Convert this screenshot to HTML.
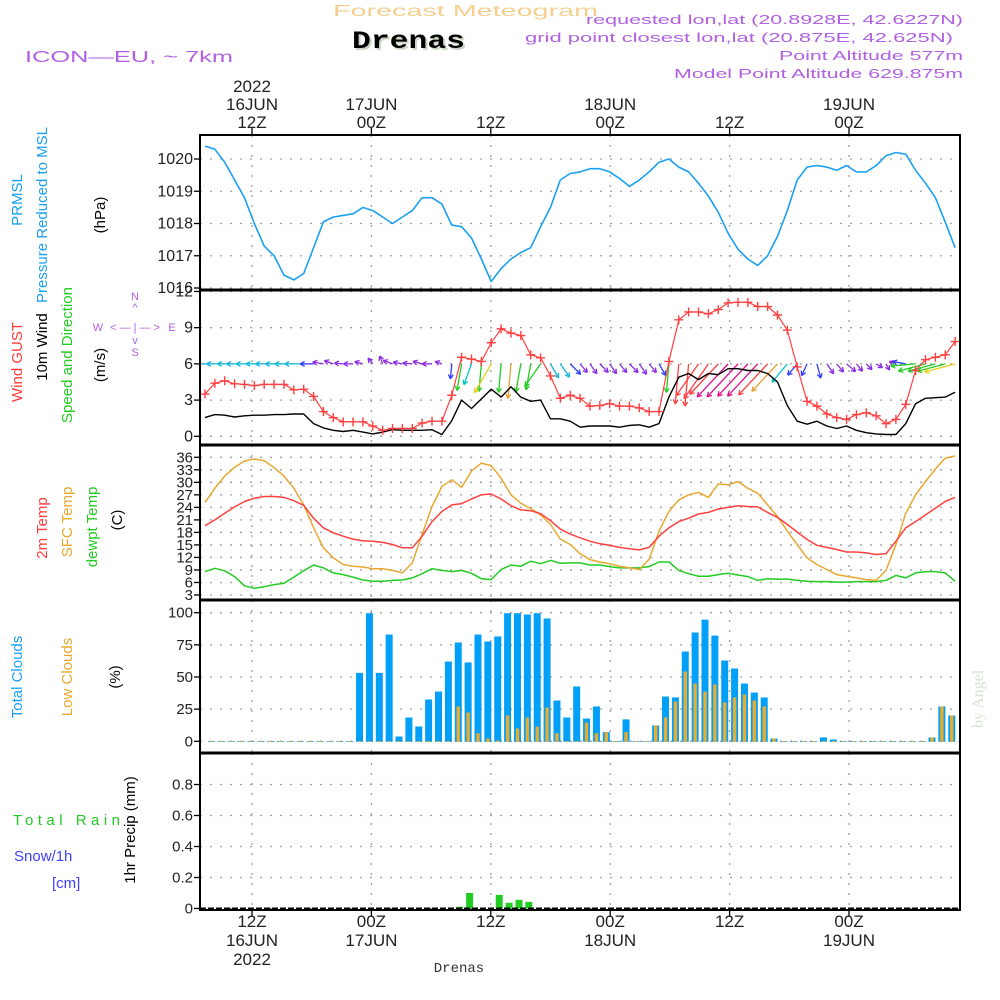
<!DOCTYPE html>
<html><head><meta charset="utf-8">
<style>
html,body{margin:0;padding:0;background:#fff;}
svg{display:block;font-family:"Liberation Sans",sans-serif;}
</style></head>
<body>
<svg id="chart" width="1000" height="1000" viewBox="0 0 1000 1000" xmlns="http://www.w3.org/2000/svg">
<rect x="0" y="0" width="1000" height="1000" fill="#fff"/>
<text x="333" y="16" font-size="16" fill="#f5cf8f" textLength="265" lengthAdjust="spacingAndGlyphs">Forecast Meteogram</text>
<text x="352" y="48" font-family="Liberation Mono, monospace" font-weight="bold" font-size="25" fill="#c9d6c4" textLength="113" lengthAdjust="spacingAndGlyphs" transform="translate(2,2)">Drenas</text>
<text x="352" y="48" font-family="Liberation Mono, monospace" font-weight="bold" font-size="25" fill="#000" textLength="113" lengthAdjust="spacingAndGlyphs">Drenas</text>
<text x="25" y="62" font-size="16" fill="#b060e0" textLength="208" lengthAdjust="spacingAndGlyphs">ICON—EU, ~ 7km</text>
<g fill="#b060e0" font-size="13">
<text x="586" y="24" textLength="377" lengthAdjust="spacingAndGlyphs">requested lon,lat (20.8928E, 42.6227N)</text>
<text x="525" y="42" textLength="428" lengthAdjust="spacingAndGlyphs">grid point closest lon,lat (20.875E, 42.625N)</text>
<text x="779" y="60" textLength="184" lengthAdjust="spacingAndGlyphs">Point Altitude 577m</text>
<text x="674" y="78" textLength="289" lengthAdjust="spacingAndGlyphs">Model Point Altitude 629.875m</text>
</g>
<g id="grid"></g>
<g id="marks"></g>
<g id="frame"></g>
<g id="labels" font-size="16" fill="#222"></g>

<g font-size="15">
<text transform="translate(22,200) rotate(-90)" text-anchor="middle" fill="#1aa0f0">PRMSL</text>
<text transform="translate(47,215) rotate(-90)" text-anchor="middle" fill="#1aa0f0">Pressure Reduced to MSL</text>
<text transform="translate(105,215) rotate(-90)" text-anchor="middle" fill="#000">(hPa)</text>
<text transform="translate(22,362) rotate(-90)" text-anchor="middle" fill="#ff3b3b">Wind GUST</text>
<text transform="translate(47,347) rotate(-90)" text-anchor="middle" fill="#000">10m Wind</text>
<text transform="translate(72,355) rotate(-90)" text-anchor="middle" fill="#22cc22">Speed and Direction</text>
<text transform="translate(105,365) rotate(-90)" text-anchor="middle" fill="#000">(m/s)</text>
<text transform="translate(47,528) rotate(-90)" text-anchor="middle" fill="#ff3b3b">2m Temp</text>
<text transform="translate(72,522) rotate(-90)" text-anchor="middle" fill="#e8a830">SFC Temp</text>
<text transform="translate(97,527) rotate(-90)" text-anchor="middle" fill="#22cc22">dewpt Temp</text>
<text transform="translate(122,520) rotate(-90)" text-anchor="middle" fill="#000">(C)</text>
<text transform="translate(22,677) rotate(-90)" text-anchor="middle" fill="#1aa0f0">Total Clouds</text>
<text transform="translate(72,677) rotate(-90)" text-anchor="middle" fill="#e8a830">Low Clouds</text>
<text transform="translate(120,677) rotate(-90)" text-anchor="middle" fill="#000">(%)</text>
<text transform="translate(135,830) rotate(-90)" text-anchor="middle" fill="#000">1hr Precip (mm)</text>
<text x="13" y="825" fill="#22cc22" textLength="107" lengthAdjust="spacing">Total  Rain</text>
<text x="14" y="861" fill="#4040ff">Snow/1h</text>
<text x="52" y="888" fill="#4040ff">[cm]</text>
</g>
<g fill="#b060e0" font-size="11" text-anchor="middle">
<text x="135" y="300">N</text><text x="135" y="311">^</text>
<text x="98" y="331">W</text><text x="135" y="331">&lt; — | — &gt;</text><text x="172" y="331">E</text>
<text x="135" y="344">v</text><text x="135" y="356">S</text>
</g>
<text transform="translate(983,728) rotate(-90)" font-family="Liberation Serif, serif" font-size="16" fill="#d8e0d4">by Angel</text>
<text x="459" y="972" text-anchor="middle" font-family="Liberation Mono, monospace" font-size="14" fill="#333">Drenas</text>

<script>
const pressure = [1020.4,1020.3,1019.9,1019.35,1018.8,1018.0,1017.3,1017.0,1016.4,1016.25,1016.45,1017.25,1018.05,1018.2,1018.25,1018.3,1018.5,1018.4,1018.2,1018.0,1018.2,1018.4,1018.8,1018.8,1018.6,1017.95,1017.9,1017.55,1016.9,1016.2,1016.6,1016.9,1017.1,1017.25,1017.9,1018.5,1019.35,1019.55,1019.6,1019.7,
1019.7,1019.6,1019.4,1019.15,1019.35,1019.6,1019.9,1020.0,1019.75,1019.6,1019.25,1018.85,1018.35,1017.7,1017.2,1016.9,1016.7,1017.0,1017.6,1018.4,1019.35,1019.75,1019.8,1019.75,1019.65,1019.8,1019.6,1019.6,1019.8,1020.1,1020.2,1020.15,1019.65,1019.25,1018.8,1018.05,1017.25];
const windGust = [3.5,4.4,4.6,4.35,4.3,4.2,4.3,4.3,4.3,3.85,3.9,3.3,2.05,1.55,1.2,1.2,1.2,0.85,0.5,0.65,0.65,0.65,1.1,1.25,1.25,3.4,6.55,6.4,6.2,7.75,8.9,8.55,8.35,6.75,6.5,5.0,3.15,3.4,3.15,2.5,
2.55,2.7,2.5,2.5,2.35,2.05,2.05,6.2,9.65,10.3,10.3,10.15,10.5,11.05,11.1,11.1,10.75,10.75,10.05,8.8,5.75,2.9,2.5,1.85,1.55,1.4,1.8,1.95,1.7,1.05,1.4,2.65,5.45,6.35,6.55,6.75,7.85];
const windSpeed = [1.55,1.8,1.75,1.6,1.7,1.75,1.75,1.8,1.8,1.85,1.85,1.05,0.7,0.5,0.4,0.5,0.35,0.2,0.35,0.55,0.5,0.5,0.5,0.55,0.15,1.3,3.0,2.3,3.1,3.9,3.25,4.1,3.25,2.9,3.0,1.45,1.45,1.25,0.75,0.85,
0.85,0.85,0.75,0.9,0.95,0.75,1.05,3.25,4.9,5.2,4.7,5.2,5.1,5.6,5.6,5.45,5.45,5.2,4.5,2.55,1.25,1.0,1.25,0.85,0.65,0.85,0.5,0.3,0.2,0.15,0.15,1.05,2.7,3.15,3.2,3.25,3.65];
const windDir = [180,180,180,180,180,180,180,180,180,180,180,180,190,200,185,180,195,230,250,200,190,185,195,180,200,95,100,110,95,120,95,95,100,100,125,60,55,45,50,55,
45,55,50,45,55,50,60,95,95,95,125,125,133,133,133,133,133,133,133,130,130,115,75,55,50,40,50,45,30,60,200,190,175,165,165,165,165];
const temp2m = [19.6,21.0,22.6,24.1,25.4,26.2,26.6,26.6,26.4,25.6,24.5,21.4,19.1,17.9,17.1,16.4,16.0,15.9,15.6,15.1,14.3,14.3,17.1,20.6,23.0,24.6,24.9,26.0,27.0,27.2,26.0,24.4,23.4,23.2,22.5,20.8,18.8,17.6,16.7,15.9,
15.3,14.9,14.4,14.1,13.8,14.4,17.1,19.1,20.6,21.4,22.4,22.8,23.6,24.0,24.4,24.2,24.1,22.8,21.6,19.9,18.1,16.3,14.9,14.4,13.9,13.3,13.3,13.1,12.7,12.9,15.9,19.1,20.6,22.2,23.8,25.4,26.4];
const tempSfc = [25.2,28.6,31.5,33.6,35.1,35.6,35.2,33.5,31.5,28.6,24.6,19.1,14.3,11.9,10.3,9.9,9.7,9.3,9.3,8.9,8.3,10.7,17.5,24.2,29.0,30.6,28.8,32.7,34.6,34.0,31.0,27.0,25.0,23.7,22.2,19.9,16.4,15.1,12.9,11.5,
10.9,10.5,9.9,9.5,9.1,11.5,18.3,23.0,25.8,27.0,27.6,26.4,29.6,29.4,30.2,28.6,27.4,24.6,21.8,18.3,15.1,11.9,10.3,9.1,7.9,7.5,7.1,6.7,6.5,8.9,15.1,22.6,27.0,30.2,33.2,35.8,36.3];
const dewpt = [8.6,9.4,8.8,7.4,5.2,4.6,5.0,5.5,5.8,7.3,8.8,10.2,9.5,8.3,7.9,7.3,6.6,6.3,6.3,6.5,6.6,7.1,8.1,9.3,8.9,8.6,8.9,8.2,6.9,6.7,9.1,10.2,9.9,11.1,10.5,11.3,10.6,10.7,10.7,10.2,
10.2,9.8,9.5,9.5,9.5,9.8,10.9,10.9,8.9,8.1,7.5,7.5,7.9,8.2,7.8,7.4,6.5,6.9,6.8,6.8,6.5,6.3,6.2,6.2,6.1,6.1,6.2,6.2,6.2,6.5,7.7,7.1,8.3,8.6,8.6,8.3,6.3];
const totalClouds = [0,0,0,0,0,0,0,0,0,0,0,0,0,0,0,53.6,100,53.6,83.4,4.1,18.9,11.9,32.9,39.1,62.4,77.2,61.7,83.4,78,81.9,100,100,99,100,95.9,32.1,18.9,43,18.1,27.5,
7.5,0,17.4,0,0,12.7,35.2,34.5,70.2,85,95,82.6,63.2,57,45.3,38.3,34.5,2.6,0,0,0,0,3.4,1.8,0,0,0,0,0,0,0,0,0,3.4,27.5,20.5,0];
const lowClouds = [0,0,0,0,0,0,0,0,0,0,0,0,0,0,0,0,0,0,0,0,0,0,0,0,0,27.5,22.8,6.7,2.6,1,20.5,10.4,18.9,11.9,26.7,6.7,0,0,15,6.7,
7.5,0,7.5,0,0,12.7,18.9,31.3,54.7,45.3,39.1,44.6,30.6,34.5,36.8,32.1,27.5,2.6,0,0,0,0,0,0,0,0,0,0,0,0,0,0,0,3.4,27.5,20.5,0];
const precip = [0,0,0,0,0,0,0,0,0,0,0,0,0,0,0,0,0,0,0,0,0,0,0,0,0,0.011,0.1,0,0,0.088,0.037,0.056,0.043,0,0,0,0,0,0,0,
0,0,0,0,0,0,0,0,0,0,0,0,0,0,0,0,0,0,0,0,0,0,0,0,0,0,0,0,0,0,0,0,0,0,0,0,0];
const pTicks = [1016,1017,1018,1019,1020];
const wTicks = [0,3,6,9,12];
const tTicks = [3,6,9,12,15,18,21,24,27,30,33,36];
const cTicks = [0,25,50,75,100];
const rTicks = [0,0.2,0.4,0.6,0.8];
const rTickLabels = ["0","0.2","0.4","0.6","0.8"];
const timeHours = [0,12,24,36,48,60];
const topLabels = [["2022","16JUN","12Z"],["","17JUN","00Z"],["","","12Z"],["","18JUN","00Z"],["","","12Z"],["","19JUN","00Z"]];
const botLabels = [["12Z","16JUN","2022"],["00Z","17JUN",""],["12Z","",""],["00Z","18JUN",""],["12Z","",""],["00Z","19JUN",""]];

const X0=200, X1=960;
const xTime = h => 252 + h*9.95;
const xIdx = i => 205 + i*9.87;
const yP = v => 288 - (v-1016)*32.25;
const yW = v => 436.3 - v*12.07;
const yT = v => 595 - (v-3)*4.173;
const yC = v => 741.3 - v*1.286;
const yR = v => 908.5 - v*155;
const panels = [[135,290],[290,445],[445,600],[600,753],[753,910]];

const NS="http://www.w3.org/2000/svg";
function mk(tag, parent, attrs){const e=document.createElementNS(NS,tag);for(const k in attrs)e.setAttribute(k,attrs[k]);parent.appendChild(e);return e;}
const grid=document.getElementById('grid'), marks=document.getElementById('marks'), frame=document.getElementById('frame'), labels=document.getElementById('labels');

const defs=mk('defs',document.getElementById('chart'),{});
const cp=mk('clipPath',defs,{id:'plotclip'});
mk('rect',cp,{x:X0,y:135,width:X1-X0,height:775});
marks.setAttribute('clip-path','url(#plotclip)');

function hgrid(ticks, yf, texts, fs, name){
  ticks.forEach((t,k)=>{
    const y=yf(t);
    const g=mk('line',grid,{x1:X0,x2:X1,y1:y,y2:y,stroke:'#a0a0a0','stroke-width':1.3,'stroke-dasharray':'2 8'});
    
    
    mk('line',frame,{x1:X0-6,x2:X0,y1:y,y2:y,stroke:'#000','stroke-width':1.3});
    const tx=mk('text',labels,{x:X0-7,y:y+5,'text-anchor':'end','font-size':fs});
    tx.textContent=texts?texts[k]:String(t);
    
    
  });
}
hgrid(pTicks,yP,null,16,'pressure');
hgrid(wTicks,yW,null,16,'wind');
hgrid(tTicks,yT,null,15,'temp');
hgrid(cTicks,yC,null,15,'cloud');
hgrid(rTicks,yR,rTickLabels,15,'precip');

timeHours.forEach((h,k)=>{
  const x=xTime(h);
  panels.forEach(p=>{
    const g=mk('line',grid,{x1:x,x2:x,y1:p[0],y2:p[1],stroke:'#a0a0a0','stroke-width':1.3,'stroke-dasharray':'2 8'});
    
    
  });
  mk('line',frame,{x1:x,x2:x,y1:128,y2:135,stroke:'#000','stroke-width':1.3});
  mk('line',frame,{x1:x,x2:x,y1:910,y2:917,stroke:'#000','stroke-width':1.3});
  topLabels[k].forEach((s,j)=>{ if(!s) return;
    const t=mk('text',labels,{x:x,y:92+j*18,'text-anchor':'middle','font-size':17});
    t.textContent=s;
    
    
  });
  botLabels[k].forEach((s,j)=>{ if(!s) return;
    const t=mk('text',labels,{x:x,y:927+j*19,'text-anchor':'middle','font-size':17});
    t.textContent=s;
    
    
  });
});

const fr=mk('rect',frame,{x:X0,y:135,width:X1-X0,height:775,fill:'none',stroke:'#000','stroke-width':2});


[290,445,600,753].forEach(y=>{
  const l=mk('line',frame,{x1:X0,x2:X1,y1:y,y2:y,stroke:'#000','stroke-width':3});
  
  
});

function poly(arr, yf, color, name, w){
  const pts=arr.map((v,i)=>xIdx(i).toFixed(1)+','+yf(v).toFixed(1)).join(' ');
  const p=mk('polyline',marks,{points:pts,fill:'none',stroke:color,'stroke-width':w||1.4,'stroke-linejoin':'round'});
  
  
}
poly(pressure,yP,'#1aa0f0','pressure-line',1.6);

function arrowColor(s){
  if(s<1) return '#8a2be2';
  if(s<1.4) return '#2f3cff';
  if(s<2.0) return '#17b8d8';
  if(s<2.6) return '#00c8c8';
  if(s<3.6) return '#22cc22';
  if(s<4.0) return '#e8d020';
  if(s<4.6) return '#e8a030';
  if(s<5.3) return '#ff4040';
  return '#e0108a';
}
windDir.forEach((d,i)=>{
  const s=windSpeed[i];
  const L=6+s*7;
  const a=d*Math.PI/180;
  const x0=xIdx(i), y0=yW(6);
  const x1=x0+L*Math.cos(a), y1=y0+L*Math.sin(a);
  const c=arrowColor(s);
  const g=mk('g',marks,{stroke:c,'stroke-width':1.3,fill:'none'});
  
  
  mk('line',g,{x1:x0,y1:y0,x2:x1,y2:y1});
  const hl=5;
  [a+Math.PI-0.5,a+Math.PI+0.5].forEach(b=>mk('line',g,{x1:x1,y1:y1,x2:x1+hl*Math.cos(b),y2:y1+hl*Math.sin(b)}));
});
poly(windSpeed,yW,'#000','wind-speed-line',1.4);
poly(windGust,yW,'#ff4040','wind-gust-line',1.2);
windGust.forEach((v,i)=>{
  const x=xIdx(i), y=yW(v);
  const p=mk('path',marks,{d:`M${x-4.5},${y}H${x+4.5}M${x},${y-4.5}V${y+4.5}`,stroke:'#ff4040','stroke-width':1.4});
  
  
});

poly(dewpt,yT,'#22cc22','dewpoint-line',1.5);
poly(tempSfc,yT,'#e8a830','sfc-temp-line',1.5);
poly(temp2m,yT,'#ff4040','temp-2m-line',1.5);

totalClouds.forEach((v,i)=>{
  const xc=xIdx(i)+6.5;
  const h=Math.max(v*1.286,0.8);
  const b=mk('rect',marks,{x:xc-3.5,y:yC(0)-h+0.5,width:7,height:h,fill:'#00a0f8'});
  
  
});
lowClouds.forEach((v,i)=>{
  const xc=xIdx(i)+6.5;
  const h=Math.max(v*1.286,0.8);
  const b=mk('rect',marks,{x:xc-1.7,y:yC(0)-h+0.5,width:3.4,height:h,fill:'#e8ac30'});
  
  
});

precip.forEach((v,i)=>{
  if(v<=0) return;
  const xc=xIdx(i)+8;
  const b=mk('rect',marks,{x:xc-3.5,y:yR(v),width:7,height:yR(0)-yR(v),fill:'#22cc22'});
  
  
});
const zl=mk('line',marks,{x1:X0,x2:X1,y1:yR(0),y2:yR(0),stroke:'#000','stroke-width':2,'stroke-dasharray':'6 2'});


</script>
</svg>
</body></html>
